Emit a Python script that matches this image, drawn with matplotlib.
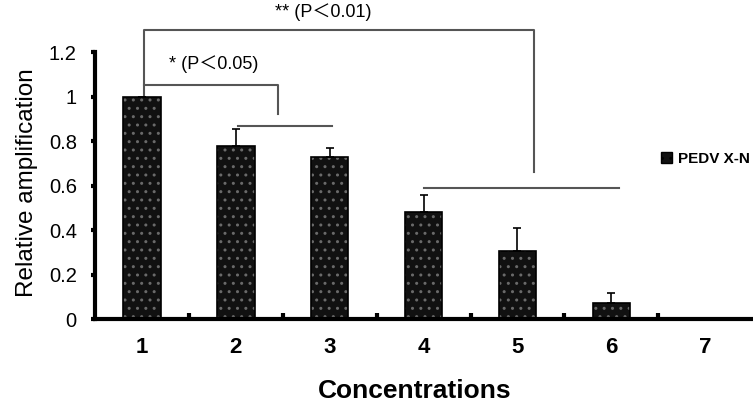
import matplotlib
matplotlib.use("Agg")
import matplotlib.pyplot as plt
import numpy as np

categories = ["1", "2", "3", "4", "5", "6", "7"]
values = [1.0, 0.778, 0.728, 0.481, 0.306, 0.072, 0.0]
err_upper = [0.0, 0.076, 0.042, 0.075, 0.104, 0.045, 0.0]
y_ticks = [0, 0.2, 0.4, 0.6, 0.8, 1.0, 1.2]
y_tick_labels = ["0", "0.2", "0.4", "0.6", "0.8", "1", "1.2"]
series_name = "PEDV X-N"

fam = ["Liberation Sans", "Noto Sans CJK SC", "DejaVu Sans"]
plt.rcParams['font.family'] = fam

fig = plt.figure(figsize=(7.53, 4.05), dpi=100)
ax = fig.add_axes([0.126, 0.2123, 0.873, 0.6593])

x = np.arange(1, len(categories) + 1)
w = 0.4
# dotted fill
ax.bar(x, values, width=w, color="#111111", edgecolor="#6a6a6a", hatch="..", linewidth=0, zorder=2)
ax.bar(x, values, width=w, fill=False, edgecolor="black", linewidth=1.2, zorder=3)
ax.errorbar(x, values, yerr=[np.zeros(len(x)), err_upper], fmt="none", ecolor="black",
            elinewidth=1.2, capsize=3, capthick=1.2, zorder=4)

ax.set_xlim(0.5, 7.5)
ax.set_ylim(0, 1.2)
ax.set_yticks(y_ticks)
ax.set_yticklabels(y_tick_labels, fontsize=14.5)
ax.set_xticks(x)
ax.set_xticklabels(categories, fontsize=16, fontweight="bold")
ax.set_xticks(x[:-1] + 0.5, minor=True)
ax.tick_params(axis="x", which="major", length=0, pad=13)
ax.tick_params(axis="x", which="minor", direction="in", length=4, width=3)
ax.tick_params(axis="y", which="major", direction="out", length=3, width=3, pad=10)

for s in ["top", "right"]:
    ax.spines[s].set_visible(False)
ax.spines["left"].set_linewidth(3)
ax.spines["bottom"].set_linewidth(3)

ax.set_xlabel("Concentrations", fontsize=19, fontweight="bold")
ax.xaxis.set_label_coords(0.487, -0.225)
ax.set_ylabel("Relative amplification", fontsize=17.5)
ax.yaxis.set_label_coords(-0.087, 0.509)

# significance brackets
lc = "#555555"
lw = 1.5
x1 = x[0] + 0.02
# ** bracket
ax.plot([x1, x1, 5.18, 5.18], [1.0, 1.30, 1.30, 0.66], color=lc, lw=lw, clip_on=False, zorder=1)
ax.plot([4.0, 6.08], [0.59, 0.59], color=lc, lw=lw, clip_on=False, zorder=1)
ax.text(2.93, 1.38, "** (P＜0.01)", fontsize=13, ha="center", va="center")
# * bracket
ax.plot([x1, 2.45, 2.45], [1.05, 1.05, 0.92], color=lc, lw=lw, clip_on=False, zorder=1)
ax.plot([2.02, 3.03], [0.867, 0.867], color=lc, lw=lw, clip_on=False, zorder=1)
ax.text(1.77, 1.146, "* (P＜0.05)", fontsize=13, ha="center", va="center")

# legend
ax.legend([plt.Rectangle((0, 0), 1, 1, facecolor="#111111", edgecolor="black", hatch="..")],
          [series_name], loc="center left", bbox_to_anchor=(0.84, 0.60), frameon=False,
          handlelength=0.7, handleheight=0.7, handletextpad=0.4,
          prop={"family": fam, "weight": "bold", "size": 11})

fig.savefig("out.png", dpi=100)
